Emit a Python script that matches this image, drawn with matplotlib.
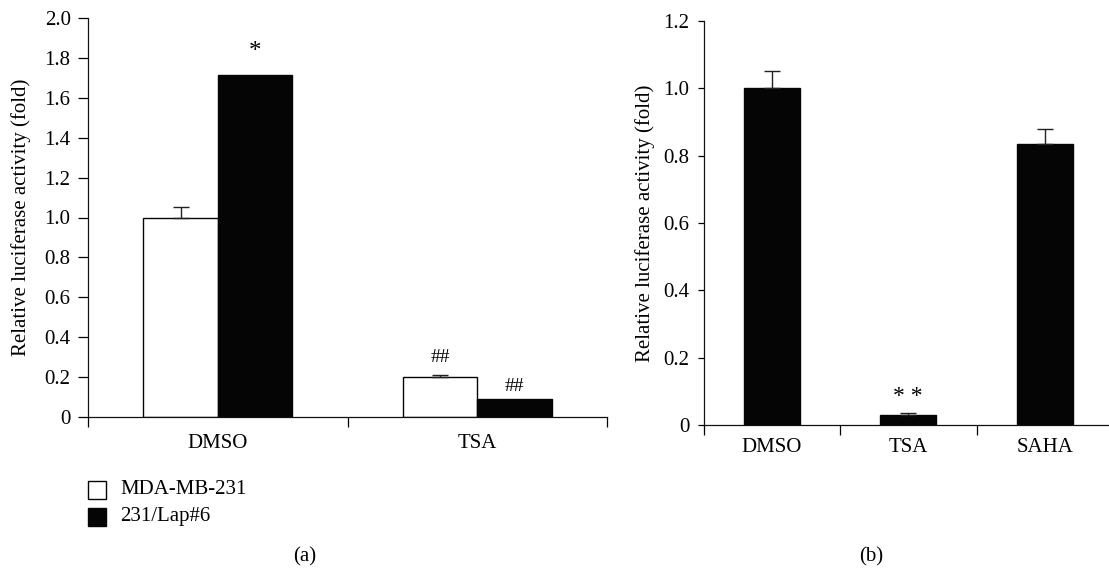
import matplotlib
matplotlib.use("Agg")
import matplotlib.pyplot as plt
import numpy as np
from matplotlib.patches import Rectangle

plt.rcParams['font.family'] = ['Liberation Serif', 'DejaVu Serif']

# ---- data ----
cats_a = ["DMSO", "TSA"]
mda_vals = [1.0, 0.20]
mda_err = [0.055, 0.012]
lap_vals = [1.715, 0.09]
lap_err = [0.0, 0.0]
series_a = ["MDA-MB-231", "231/Lap#6"]
annot_mda = ["", "##"]
annot_lap = ["*", "##"]
yticks_a = [0, 0.2, 0.4, 0.6, 0.8, 1.0, 1.2, 1.4, 1.6, 1.8, 2.0]

cats_b = ["DMSO", "TSA", "SAHA"]
vals_b = [1.0, 0.03, 0.835]
err_b = [0.05, 0.005, 0.043]
annot_b = ["", "* *", ""]
yticks_b = [0, 0.2, 0.4, 0.6, 0.8, 1.0, 1.2]

ylabel = "Relative luciferase activity (fold)"

W, H = 1109, 571
fig = plt.figure(figsize=(W / 100, H / 100), dpi=100)

def fx(px):
    return px / W

def fy(py):
    return 1 - py / H

FS = 15
BLACK = "#050505"

def style_axes(ax, yticks, ylim, ylen, xpad):
    ax.set_ylim(*ylim)
    ax.set_yticks(yticks)
    ax.set_yticklabels(["0" if v == 0 else f"{v:.1f}" for v in yticks], fontsize=FS)
    for s in ["top", "right"]:
        ax.spines[s].set_visible(False)
    for s in ["left", "bottom"]:
        ax.spines[s].set_linewidth(0.9)
        ax.spines[s].set_color("#111111")
    ax.tick_params(axis="y", direction="out", length=ylen, width=0.9, pad=5.5)
    ax.tick_params(axis="x", which="major", direction="out", length=7, width=0.9, labelbottom=False)
    ax.tick_params(axis="x", which="minor", length=0, pad=xpad, labelsize=FS)
    ax.set_ylabel(ylabel, fontsize=FS)

# ---- panel (a) ----
axa = fig.add_axes([fx(88), fy(417), fx(607) - fx(88), fy(18) - fy(417)])
x = np.arange(len(cats_a))
w = 0.287
axa.bar(x - w / 2, mda_vals, w, color="white", edgecolor=BLACK, linewidth=1.0,
        yerr=[np.zeros(len(x)), mda_err], error_kw=dict(ecolor="#222222", elinewidth=1.0, capsize=6, capthick=1.0),
        label=series_a[0], zorder=2)
axa.bar(x + w / 2, lap_vals, w, color=BLACK, edgecolor=BLACK, linewidth=1.0,
        label=series_a[1], zorder=2)
for i in range(len(x)):
    if annot_mda[i]:
        axa.text(x[i] - w / 2, mda_vals[i] + mda_err[i] + 0.085, annot_mda[i], ha="center", va="center", fontsize=14)
    if annot_lap[i]:
        star = annot_lap[i] == "*"
        off = 0.115 if star else 0.065
        axa.text(x[i] + w / 2, lap_vals[i] + lap_err[i] + off, annot_lap[i], ha="center", va="center",
                 fontsize=18 if star else 14)
axa.set_xlim(-0.5, 1.5)
axa.set_xticks([-0.5, 0.5, 1.5])
axa.set_xticks(x, minor=True)
axa.set_xticklabels(cats_a, minor=True)
style_axes(axa, yticks_a, (0, 2.0), 7, 12)
axa.yaxis.set_label_coords(-(88 - 31) / (607 - 88), 0.5)

# legend (manual, figure coords)
for j, (name, fc) in enumerate(zip(series_a, ["white", BLACK])):
    y0 = 481 + j * 27
    fig.patches.append(Rectangle((fx(88), fy(y0 + 18)), fx(18), fy(y0) - fy(y0 + 18),
                                 facecolor=fc, edgecolor=BLACK, linewidth=1.0, transform=fig.transFigure))
    fig.text(fx(120), fy(y0 + 9), name, fontsize=FS, va="center", ha="left")

# ---- panel (b) ----
axb = fig.add_axes([fx(703.5), fy(425), fx(1109) - fx(703.5), fy(21) - fy(425)])
xb = np.arange(len(cats_b))
wb = 0.41
axb.bar(xb, vals_b, wb, color=BLACK, edgecolor=BLACK, linewidth=1.0,
        yerr=[np.zeros(len(xb)), err_b], error_kw=dict(ecolor="#222222", elinewidth=1.0, capsize=6, capthick=1.0),
        zorder=2)
for i in range(len(xb)):
    if annot_b[i]:
        axb.text(xb[i], vals_b[i] + err_b[i] + 0.05, annot_b[i], ha="center", va="center", fontsize=17)
axb.set_xlim(-0.5, 2.47)
axb.set_xticks([-0.5, 0.5, 1.5])
axb.set_xticks(xb, minor=True)
axb.set_xticklabels(cats_b, minor=True)
style_axes(axb, yticks_b, (0, 1.2), 4.5, 9)
axb.yaxis.set_label_coords(-(703.5 - 655) / (1109 - 703.5), 0.5)

fig.text(fx(305), fy(557), "(a)", ha="center", va="center", fontsize=15)
fig.text(fx(871), fy(557), "(b)", ha="center", va="center", fontsize=15)

fig.savefig("out.png", dpi=100)
